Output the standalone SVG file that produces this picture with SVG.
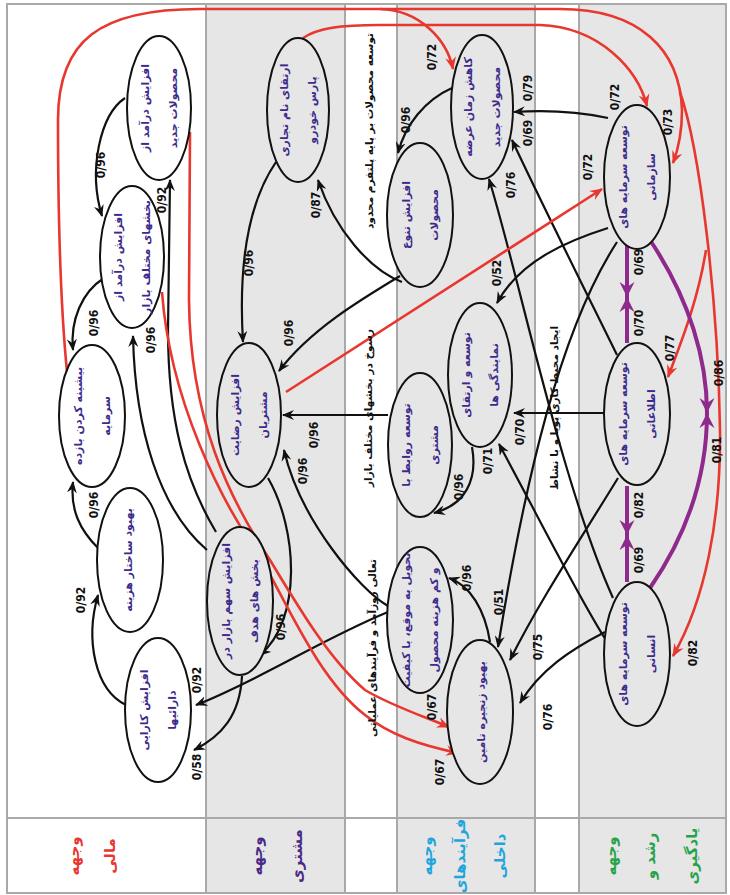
<svg xmlns="http://www.w3.org/2000/svg" width="730" height="895" viewBox="0 0 730 895">
<defs>
<style>
.band{fill:#e6e6e6}
.sep{stroke:#a9a9a9;stroke-width:2;fill:none}
.e{fill:none;stroke:#111;stroke-width:2.2}
.r{fill:none;stroke:#e8372f;stroke-width:2.6}
.p{fill:none;stroke:#8e2a8c;stroke-width:4}
.nw{fill:#fff;stroke:#111;stroke-width:2}
.ng{fill:#e6e6e6;stroke:#111;stroke-width:2}
.nt{font-family:"DejaVu Sans",sans-serif;font-size:11px;font-weight:bold;fill:#3d2b8c;text-anchor:middle;dominant-baseline:central}
.lb{font-family:"Liberation Sans Narrow","DejaVu Sans Condensed","Liberation Sans",sans-serif;font-size:12px;font-weight:bold;fill:#111;text-anchor:middle;dominant-baseline:central}
.gt{font-family:"DejaVu Sans",sans-serif;font-size:10.5px;font-weight:bold;fill:#111;text-anchor:middle;dominant-baseline:central}
.hd{font-family:"DejaVu Sans",sans-serif;font-size:15px;font-weight:bold;text-anchor:middle;dominant-baseline:central}
</style>
<marker id="ab" viewBox="0 0 12 10" refX="11" refY="5" markerWidth="12" markerHeight="10" markerUnits="userSpaceOnUse" orient="auto"><path d="M0,0 L12,5 L0,10 L4,5 z" fill="#111"/></marker>
<marker id="ar" viewBox="0 0 12 10" refX="11" refY="5" markerWidth="13" markerHeight="11" markerUnits="userSpaceOnUse" orient="auto"><path d="M0,0 L12,5 L0,10 L4,5 z" fill="#e8372f"/></marker>
<marker id="ap" viewBox="0 0 12 12" refX="12" refY="6" markerWidth="15" markerHeight="16" markerUnits="userSpaceOnUse" orient="auto"><path d="M0,0 L12,6 L0,12 L4,6 z" fill="#8e2a8c"/></marker>
</defs>

<!-- background & bands -->
<rect x="7" y="4" width="719" height="889" fill="#fff"/>
<rect class="band" x="206" y="4" width="139" height="889"/>
<rect class="band" x="397" y="4" width="138" height="889"/>
<rect class="band" x="579" y="4" width="147" height="889"/>
<g class="sep">
<rect x="7" y="4" width="719" height="889"/>
<line x1="206" y1="4" x2="206" y2="893"/>
<line x1="345" y1="4" x2="345" y2="893"/>
<line x1="397" y1="4" x2="397" y2="893"/>
<line x1="535" y1="4" x2="535" y2="893"/>
<line x1="579" y1="4" x2="579" y2="893"/>
<line x1="7" y1="818" x2="726" y2="818"/>
</g>

<g id="connectors">
<!-- black -->
<path class="e" marker-end="url(#ab)" d="M125,98 C100,115 88,170 102,216"/>
<path class="e" marker-end="url(#ab)" d="M216,532 C185,480 168,420 168,330 L170,180"/>
<path class="e" marker-end="url(#ab)" d="M104,278 C82,292 70,320 73,350"/>
<path class="e" marker-end="url(#ab)" d="M207,550 C160,510 135,430 133,336"/>
<path class="e" marker-end="url(#ab)" d="M98,548 C80,530 70,510 73,482"/>
<path class="e" marker-end="url(#ab)" d="M126,705 C95,690 85,640 98,595"/>
<path class="e" marker-end="url(#ab)" d="M242,676 C240,715 222,736 194,750"/>
<path class="e" marker-end="url(#ab)" d="M388,612 C320,640 260,680 196,705"/>
<path class="e" marker-end="url(#ab)" d="M276,162 C250,200 238,260 243,342"/>
<path class="e" marker-end="url(#ab)" d="M402,282 C370,270 335,230 318,180"/>
<path class="e" marker-end="url(#ab)" d="M400,276 C360,300 310,330 279,371"/>
<path class="e" marker-end="url(#ab)" d="M388,415 L283,415"/>
<path class="e" marker-end="url(#ab)" d="M388,606 C360,590 300,520 284,450"/>
<path class="e" marker-end="url(#ab)" d="M268,478 C298,530 302,620 260,655"/>
<path class="e" marker-end="url(#ab)" d="M452,88 C425,100 405,125 398,153"/>
<path class="e" marker-end="url(#ab)" d="M608,118 C580,112 545,110 514,112"/>
<path class="e" marker-end="url(#ab)" d="M617,355 C580,280 540,200 512,140"/>
<path class="e" marker-end="url(#ab)" d="M613,598 C560,480 520,280 489,179"/>
<path class="e" marker-end="url(#ab)" d="M606,640 C580,600 540,520 499,444"/>
<path class="e" marker-end="url(#ab)" d="M608,228 C570,240 520,260 497,303"/>
<path class="e" marker-end="url(#ab)" d="M604,413 L514,413"/>
<path class="e" marker-end="url(#ab)" d="M472,447 C478,480 465,505 434,513"/>
<path class="e" marker-end="url(#ab)" d="M617,242 C560,330 525,480 498,647"/>
<path class="e" marker-end="url(#ab)" d="M618,478 C580,540 540,600 510,660"/>
<path class="e" marker-end="url(#ab)" d="M605,632 C570,650 540,670 520,703"/>
<path class="e" marker-end="url(#ab)" d="M490,642 C485,610 470,585 449,578"/>
<!-- red -->
<path class="r" marker-end="url(#ar)" d="M67,372 C60,300 58,200 58,120 C58,40 100,9 200,9 L560,9 C640,9 680,50 682,110 C682,135 678,150 673,163"/>
<path class="r" marker-end="url(#ar)" d="M380,9 C420,10 447,40 453,69"/>
<path class="r" marker-end="url(#ar)" d="M680,92 C700,150 718,300 720,430 C721,520 705,600 673,656"/>
<path class="r" marker-end="url(#ar)" d="M706,250 C698,300 682,340 668,377"/>
<path class="r" marker-end="url(#ar)" d="M303,38 C318,28 340,25 380,25 L540,25 C600,27 638,70 647,106"/>
<path class="r" marker-end="url(#ar)" d="M286,392 L602,189"/>
<path class="r" marker-end="url(#ar)" d="M190,132 L189,300 C190,420 230,500 270,560 C300,610 330,660 365,690 C390,705 420,715 449,727"/>
<path class="r" marker-end="url(#ar)" d="M162,292 C170,400 220,500 262,560 C290,610 320,680 365,715 C390,735 420,745 458,753"/>
<!-- purple -->
<path class="p" marker-end="url(#ap)" d="M627,246 L627,297"/>
<path class="p" marker-end="url(#ap)" d="M627,343 L627,297"/>
<path class="p" marker-end="url(#ap)" d="M627,486 L627,535"/>
<path class="p" marker-end="url(#ap)" d="M627,582 L627,535"/>
<path class="p" marker-end="url(#ap)" d="M650,240 C690,300 707,360 707,413"/>
<path class="p" marker-end="url(#ap)" d="M650,588 C690,530 707,470 707,413"/>

<!-- labels -->
<g class="lb">
<text transform="translate(101,165) rotate(-90)">0/96</text>
<text transform="translate(162,200) rotate(-90)">0/92</text>
<text transform="translate(94,323) rotate(-90)">0/96</text>
<text transform="translate(151,340) rotate(-90)">0/96</text>
<text transform="translate(94,505) rotate(-90)">0/96</text>
<text transform="translate(81,600) rotate(-90)">0/92</text>
<text transform="translate(197,767) rotate(-90)">0/58</text>
<text transform="translate(197,680) rotate(-90)">0/92</text>
<text transform="translate(249,263) rotate(-90)">0/96</text>
<text transform="translate(316,205) rotate(-90)">0/87</text>
<text transform="translate(289,333) rotate(-90)">0/96</text>
<text transform="translate(314,435) rotate(-90)">0/96</text>
<text transform="translate(303,471) rotate(-90)">0/96</text>
<text transform="translate(281,627) rotate(-90)">0/96</text>
<text transform="translate(406,120) rotate(-90)">0/96</text>
<text transform="translate(528,88) rotate(-90)">0/79</text>
<text transform="translate(528,133) rotate(-90)">0/69</text>
<text transform="translate(511,185) rotate(-90)">0/76</text>
<text transform="translate(488,461) rotate(-90)">0/71</text>
<text transform="translate(497,273) rotate(-90)">0/52</text>
<text transform="translate(520,432) rotate(-90)">0/70</text>
<text transform="translate(459,487) rotate(-90)">0/96</text>
<text transform="translate(499,602) rotate(-90)">0/51</text>
<text transform="translate(538,647) rotate(-90)">0/75</text>
<text transform="translate(548,717) rotate(-90)">0/76</text>
<text transform="translate(467,578) rotate(-90)">0/96</text>
<text transform="translate(668,122) rotate(-90)">0/73</text>
<text transform="translate(432,57) rotate(-90)">0/72</text>
<text transform="translate(615,97) rotate(-90)">0/72</text>
<text transform="translate(588,167) rotate(-90)">0/72</text>
<text transform="translate(670,348) rotate(-90)">0/77</text>
<text transform="translate(693,653) rotate(-90)">0/82</text>
<text transform="translate(432,707) rotate(-90)">0/67</text>
<text transform="translate(440,772) rotate(-90)">0/67</text>
<text transform="translate(639,262) rotate(-90)">0/69</text>
<text transform="translate(639,323) rotate(-90)">0/70</text>
<text transform="translate(639,505) rotate(-90)">0/82</text>
<text transform="translate(639,560) rotate(-90)">0/69</text>
<text transform="translate(719,373) rotate(-90)">0/86</text>
<text transform="translate(717,450) rotate(-90)">0/81</text>
</g>
</g>

<!-- nodes -->
<g id="n1"><ellipse class="nw" cx="159" cy="108" rx="32" ry="72"/><text class="nt" transform="translate(159,108) rotate(-90)"><tspan x="0" y="-14">افزایش درآمد از</tspan><tspan x="0" y="14">محصولات جدید</tspan></text></g>
<g id="n2"><ellipse class="nw" cx="132" cy="257" rx="32" ry="71"/><text class="nt" transform="translate(132,257) rotate(-90)"><tspan x="0" y="-14">افزایش درآمد از</tspan><tspan x="0" y="14">بخشهای مختلف بازار</tspan></text></g>
<g id="n3"><ellipse class="nw" cx="92" cy="416" rx="33" ry="71"/><text class="nt" transform="translate(92,416) rotate(-90)"><tspan x="0" y="-14">بیشینه کردن بازده</tspan><tspan x="0" y="14">سرمایه</tspan></text></g>
<g id="n4"><ellipse class="nw" cx="130" cy="560" rx="33" ry="72"/><text class="nt" transform="translate(128,560) rotate(-90)">بهبود ساختار هزینه</text></g>
<g id="n5"><ellipse class="nw" cx="158" cy="710" rx="33" ry="72"/><text class="nt" transform="translate(158,710) rotate(-90)"><tspan x="0" y="-14">افزایش کارایی</tspan><tspan x="0" y="14">دارائیها</tspan></text></g>
<g id="n6"><ellipse class="ng" cx="298" cy="110" rx="31" ry="72"/><text class="nt" transform="translate(298,110) rotate(-90)"><tspan x="0" y="-14">ارتقای نام تجاری</tspan><tspan x="0" y="14">پارس خودرو</tspan></text></g>
<g id="n7"><ellipse class="ng" cx="249" cy="415" rx="32" ry="72"/><text class="nt" transform="translate(249,415) rotate(-90)"><tspan x="0" y="-14">افزایش رضایت</tspan><tspan x="0" y="14">مشتریان</tspan></text></g>
<g id="n8"><ellipse class="ng" cx="240" cy="601" rx="33" ry="74"/><text class="nt" transform="translate(240,601) rotate(-90)"><tspan x="0" y="-14">افزایش سهم بازار در</tspan><tspan x="0" y="14">بخش های هدف</tspan></text></g>
<g id="n9"><ellipse class="ng" cx="482" cy="107" rx="31" ry="72"/><text class="nt" transform="translate(482,107) rotate(-90)"><tspan x="0" y="-14">کاهش زمان عرضه</tspan><tspan x="0" y="14">محصولات جدید</tspan></text></g>
<g id="n10"><ellipse class="ng" cx="420" cy="215" rx="33" ry="72"/><text class="nt" transform="translate(420,215) rotate(-90)"><tspan x="0" y="-14">افزایش تنوع</tspan><tspan x="0" y="14">محصولات</tspan></text></g>
<g id="n11"><ellipse class="ng" cx="480" cy="375" rx="32" ry="72"/><text class="nt" transform="translate(480,375) rotate(-90)"><tspan x="0" y="-14">توسعه و ارتقای</tspan><tspan x="0" y="14">نمایندگی ها</tspan></text></g>
<g id="n12"><ellipse class="ng" cx="420" cy="445" rx="32" ry="72"/><text class="nt" transform="translate(420,445) rotate(-90)"><tspan x="0" y="-14">توسعه روابط با</tspan><tspan x="0" y="14">مشتری</tspan></text></g>
<g id="n13"><ellipse class="ng" cx="420" cy="620" rx="33" ry="73"/><text class="nt" transform="translate(420,620) rotate(-90)"><tspan x="0" y="-14">تحویل به موقع، با کیفیت</tspan><tspan x="0" y="14">و کم هزینه محصول</tspan></text></g>
<g id="n14"><ellipse class="ng" cx="480" cy="712" rx="33" ry="72"/><text class="nt" transform="translate(481,712) rotate(-90)">بهبود زنجیره تامین</text></g>
<g id="n15"><ellipse class="ng" cx="637" cy="177" rx="33" ry="72"/><text class="nt" transform="translate(637,177) rotate(-90)"><tspan x="0" y="-14">توسعه سرمایه های</tspan><tspan x="0" y="14">سازمانی</tspan></text></g>
<g id="n16"><ellipse class="ng" cx="637" cy="414" rx="33" ry="71"/><text class="nt" transform="translate(637,414) rotate(-90)"><tspan x="0" y="-14">توسعه سرمایه های</tspan><tspan x="0" y="14">اطلاعاتی</tspan></text></g>
<g id="n17"><ellipse class="ng" cx="637" cy="654" rx="33" ry="72"/><text class="nt" transform="translate(637,654) rotate(-90)"><tspan x="0" y="-14">توسعه سرمایه های</tspan><tspan x="0" y="14">انسانی</tspan></text></g>

<!-- gap texts -->
<g class="gt">
<text transform="translate(369,131) rotate(-90)">توسعه محصولات بر پایه پلتفرم محدود</text>
<text transform="translate(368,408) rotate(-90)">رسوخ در بخشهای مختلف بازار</text>
<text transform="translate(372,648) rotate(-90)">تعالی روزآمد و فرآیندهای عملیاتی</text>
<text transform="translate(554,408) rotate(-90)">ایجاد محیط کاری پویا و با نشاط</text>
</g>

<!-- perspective headers -->
<g id="headers" class="hd">
<text fill="#e8372f" transform="translate(74,856) rotate(-90)">وجهه</text>
<text fill="#e8372f" transform="translate(110,856) rotate(-90)">مالی</text>
<text fill="#4b2a86" transform="translate(257,856) rotate(-90)">وجهه</text>
<text fill="#4b2a86" transform="translate(297,856) rotate(-90)">مشتری</text>
<text fill="#1ea6dc" transform="translate(427,856) rotate(-90)">وجهه</text>
<text fill="#1ea6dc" transform="translate(460,856) rotate(-90)">فرآیندهای</text>
<text fill="#1ea6dc" transform="translate(500,856) rotate(-90)">داخلی</text>
<text fill="#26a34a" transform="translate(611,856) rotate(-90)">وجهه</text>
<text fill="#26a34a" transform="translate(650,856) rotate(-90)">رشد و</text>
<text fill="#26a34a" transform="translate(692,856) rotate(-90)">یادگیری</text>
</g>
</svg>
